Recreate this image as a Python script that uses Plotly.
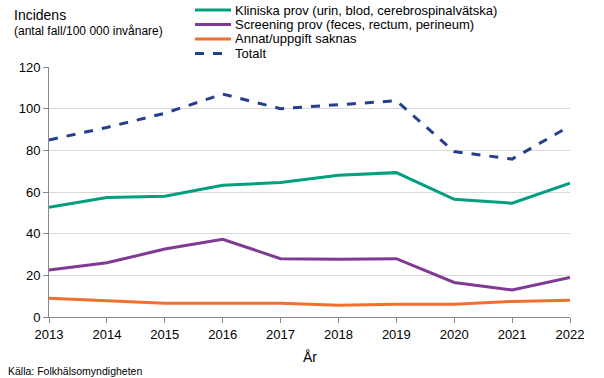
import plotly.graph_objects as go

years = [2013, 2014, 2015, 2016, 2017, 2018, 2019, 2020, 2021, 2022]
kliniska = [52.7, 57.4, 58.0, 63.2, 64.6, 68.0, 69.3, 56.5, 54.6, 64.2]
screening = [22.6, 26.0, 32.6, 37.3, 28.0, 27.7, 28.0, 16.6, 13.0, 19.0]
annat = [9.0, 7.9, 6.6, 6.6, 6.6, 5.6, 6.1, 6.1, 7.5, 8.0]
totalt = [85.0, 91.0, 97.8, 107.0, 100.0, 101.8, 103.8, 79.4, 75.8, 91.7]

names = [
    "Kliniska prov (urin, blod, cerebrospinalvätska)",
    "Screening prov (feces, rectum, perineum)",
    "Annat/uppgift saknas",
    "Totalt",
]
colors = ["#00A07E", "#7F3A94", "#F07030", "#253F8E"]
dashes = ["solid", "solid", "solid", "dash"]
series = [kliniska, screening, annat, totalt]

FONT = "Liberation Sans, Arial, sans-serif"
W, H = 604, 378
L, R, T, B = 49, 34, 67, 61
PW, PH = W - L - R, H - T - B


def px(x):
    return (x - L) / PW


def py(y):
    return 1 - (y - T) / PH


fig = go.Figure()
for name, vals, col, d in zip(names, series, colors, dashes):
    fig.add_trace(go.Scatter(
        x=years, y=vals, name=name, mode="lines",
        line=dict(color=col, width=3, dash=d),
    ))

fig.update_layout(
    width=W, height=H,
    margin=dict(l=L, r=R, t=T, b=B, autoexpand=False),
    paper_bgcolor="white", plot_bgcolor="white",
    font=dict(family=FONT, size=13, color="#000"),
    showlegend=False,
    xaxis=dict(
        range=[2013, 2022], tickmode="array", tickvals=years,
        showline=True, linecolor="#888", linewidth=1,
        ticks="outside", ticklen=5, tickcolor="#888",
        showgrid=False, zeroline=False, automargin=False,
        tickfont=dict(family=FONT, size=13),
    ),
    yaxis=dict(
        range=[0, 120], dtick=20,
        showline=True, linecolor="#888", linewidth=1,
        ticks="outside", ticklen=5, tickcolor="#888",
        gridcolor="#D9D9D9", gridwidth=1, zeroline=False, automargin=False,
        tickfont=dict(family=FONT, size=13),
    ),
)

# Legend drawn manually
leg_y = [10, 24.5, 39, 53.5]
for name, col, d, yy in zip(names, colors, dashes, leg_y):
    fig.add_shape(type="line", xref="paper", yref="paper",
                  x0=px(195), x1=px(231), y0=py(yy), y1=py(yy),
                  line=dict(color=col, width=3, dash=d))
    fig.add_annotation(text=name, xref="paper", yref="paper",
                       x=px(233), y=py(yy), xanchor="left", yanchor="middle",
                       showarrow=False, font=dict(family=FONT, size=13))

fig.add_annotation(text="Incidens", xref="paper", yref="paper",
                   x=px(12), y=py(15), xanchor="left", yanchor="middle",
                   showarrow=False, font=dict(family=FONT, size=14))
fig.add_annotation(text="(antal fall/100 000 invånare)", xref="paper", yref="paper",
                   x=px(12), y=py(31), xanchor="left", yanchor="middle",
                   showarrow=False, font=dict(family=FONT, size=12))
fig.add_annotation(text="År", xref="paper", yref="paper",
                   x=0.5, y=py(357), xanchor="center", yanchor="middle",
                   showarrow=False, font=dict(family=FONT, size=14))
fig.add_annotation(text="Källa: Folkhälsomyndigheten", xref="paper", yref="paper",
                   x=px(6), y=py(371), xanchor="left", yanchor="middle",
                   showarrow=False, font=dict(family=FONT, size=10.5))

fig.write_html("out.html", config={"displayModeBar": False},
               post_script="document.body.style.margin='0';")
